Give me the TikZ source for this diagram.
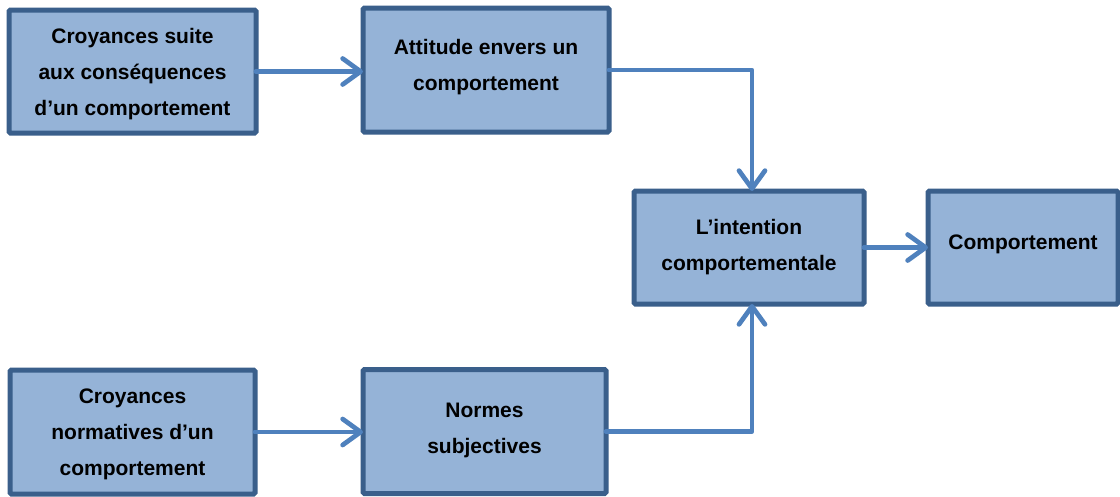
\documentclass[tikz,border=0pt]{standalone}
\usepackage{fontspec}
\setmainfont{Liberation Sans}
\usetikzlibrary{arrows.meta}
\definecolor{boxfill}{HTML}{95B3D7}
\definecolor{boxline}{HTML}{3A5F8B}
\definecolor{flow}{HTML}{4F81BD}
\begin{document}
\begin{tikzpicture}[x=1pt,y=-1pt,
  stagebox/.style={draw=boxline, fill=boxfill, line width=5pt, rounded corners=1.5pt,
    inner sep=0pt, outer sep=0pt},
  stagetext/.style={align=center, inner sep=0pt,
    font=\fontsize{21}{36}\selectfont\bfseries},
  flowline/.style={draw=flow, line width=4.7pt, line cap=round, line join=round,
    -{Straight Barb[length=18pt,width=26pt,round]}}]
  \useasboundingbox[fill=white] (0,0) rectangle (1120,496);

  % boxes, placed by their centres
  \node[stagebox, minimum width=247pt, minimum height=123pt] (b1) at (132.5,71.5) {};
  \node[stagebox, minimum width=246pt, minimum height=124pt] (b2) at (486,70) {};
  \node[stagebox, minimum width=230pt, minimum height=113pt] (b3) at (749,247.5) {};
  \node[stagebox, minimum width=190pt, minimum height=113pt] (b4) at (1023,247.5) {};
  \node[stagebox, minimum width=245pt, minimum height=124pt] (b5) at (132.5,432) {};
  \node[stagebox, minimum width=243pt, minimum height=124pt] (b6) at (484.5,431.5) {};

  % box texts
  \node[stagetext, yshift=-2.5pt] (t1) at (b1) {Croyances suite\\aux conséquences\\d’un comportement};
  \node[stagetext, yshift=3pt]    (t2) at (b2) {Attitude envers un\\comportement};
  \node[stagetext]                (t3) at (b3) {L’intention\\comportementale};
  \node[stagetext, yshift=3pt]    (t4) at (b4) {Comportement};
  \node[stagetext, yshift=-2.5pt] (t5) at (b5) {Croyances\\normatives d’un\\comportement};
  \node[stagetext, yshift=1.5pt]  (t6) at (b6) {Normes\\subjectives};

  % connectors
  \draw[flowline] (b1.east) -- (b2.west |- b1.east);
  \draw[flowline] (b2.east) -| ([xshift=3pt]b3.north);
  \draw[flowline] (b3.east) -- (b4.west |- b3.east);
  \draw[flowline] (b5.east) -- (b6.west |- b5.east);
  \draw[flowline] (b6.east) -| ([xshift=3pt]b3.south);
\end{tikzpicture}
\end{document}
